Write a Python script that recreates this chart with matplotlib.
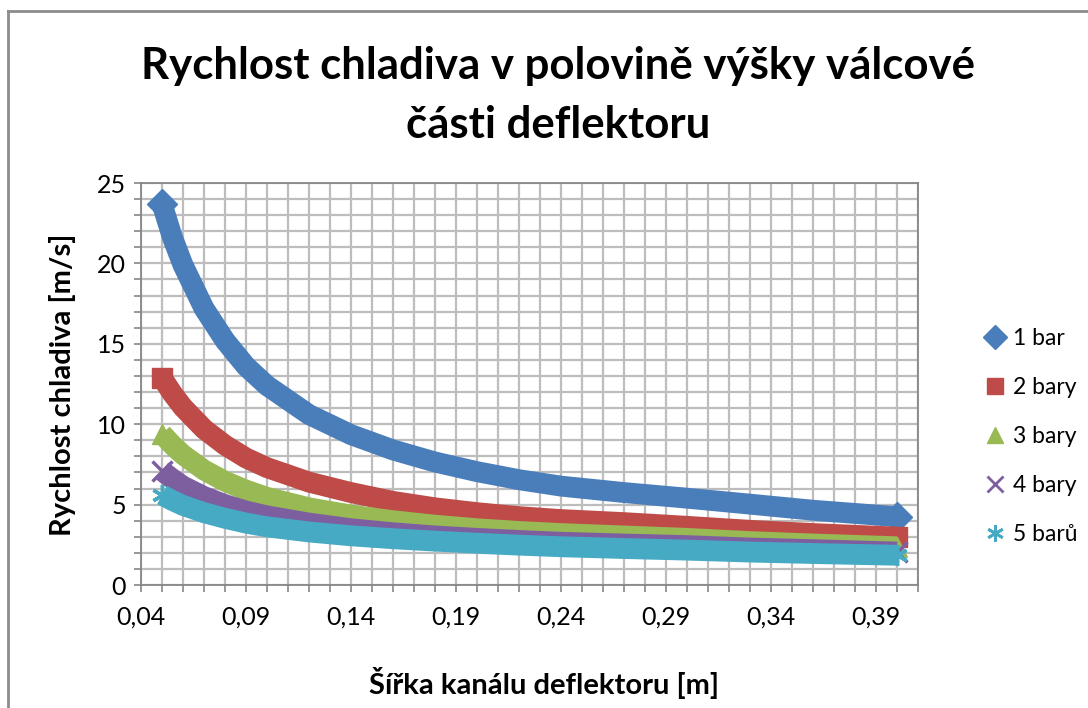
#==============================================================================#
#        Rychlost chladiva v polovine vysky valcove casti deflektoru          #
#==============================================================================#
import matplotlib
matplotlib.use('Agg')
import matplotlib.pyplot as plt
from matplotlib.lines import Line2D
from matplotlib.ticker import MultipleLocator, FixedLocator, FixedFormatter

plt.rcParams['font.family'] = ['Lato', 'DejaVu Sans']

#==============================================================================#
#                 Data (sirka kanalu [m])                   #
#==============================================================================#
sirka = [0.05, 0.055, 0.06, 0.07, 0.08, 0.09, 0.10, 0.12, 0.14, 0.16,
         0.18, 0.20, 0.22, 0.24, 0.27, 0.30, 0.33, 0.36, 0.40]

v_1bar = [23.7, 21.6, 19.9, 17.2, 15.2, 13.6, 12.4, 10.6, 9.35, 8.4,
          7.65, 7.05, 6.55, 6.15, 5.75, 5.4, 5.03, 4.65, 4.25]
v_2bary = [12.9, 11.9, 11.05, 9.7, 8.7, 7.9, 7.3, 6.4, 5.75, 5.2,
           4.8, 4.5, 4.25, 4.07, 3.88, 3.65, 3.4, 3.2, 2.98]
v_3bary = [9.4, 8.7, 8.1, 7.15, 6.45, 5.9, 5.45, 4.8, 4.35, 4.0,
           3.72, 3.5, 3.33, 3.2, 3.05, 2.9, 2.7, 2.55, 2.38]
v_4bary = [7.1, 6.6, 6.15, 5.5, 5.0, 4.6, 4.3, 3.85, 3.5, 3.25,
           3.05, 2.9, 2.77, 2.66, 2.55, 2.45, 2.3, 2.2, 2.05]
v_5baru = [5.6, 5.25, 4.95, 4.5, 4.15, 3.85, 3.62, 3.3, 3.06, 2.88,
           2.73, 2.6, 2.48, 2.38, 2.27, 2.17, 2.05, 1.96, 1.85]

nazvy = ['1 bar', '2 bary', '3 bary', '4 bary', '5 barů']
barvy = ['#4A7EBB', '#BE4B48', '#98B954', '#7D5FA0', '#46AAC5']
znacky = ['D', 's', '^', 'x', (6, 2, 0)]

x_ticks = [0.04, 0.09, 0.14, 0.19, 0.24, 0.29, 0.34, 0.39]
x_labels = ['0,04', '0,09', '0,14', '0,19', '0,24', '0,29', '0,34', '0,39']
y_ticks = [0, 5, 10, 15, 20, 25]
y_labels = ['0', '5', '10', '15', '20', '25']

#==============================================================================#
#                                 Figure                                       #
#==============================================================================#
fig = plt.figure(figsize=(10.88, 7.08), dpi=100)
ax = fig.add_axes([0.1296, 0.1737, 0.7142, 0.5678])

rady = [v_1bar, v_2bary, v_3bary, v_4bary, v_5baru]
for i, v in enumerate(rady):
    ax.plot(sirka, v, color=barvy[i], lw=15, solid_capstyle='butt',
            solid_joinstyle='round', zorder=3 + i)
    ax.plot(sirka, v, ls='none', marker=znacky[i], color=barvy[i],
            markersize=15, markeredgewidth=2.5 if i >= 3 else 1,
            markevery=[0, len(sirka) - 1], zorder=3 + i)

ax.set_xlim(0.04, 0.41)
ax.set_ylim(0, 25)
ax.xaxis.set_major_locator(FixedLocator(x_ticks))
ax.xaxis.set_major_formatter(FixedFormatter(x_labels))
ax.xaxis.set_minor_locator(MultipleLocator(0.01))
ax.yaxis.set_major_locator(FixedLocator(y_ticks))
ax.yaxis.set_major_formatter(FixedFormatter(y_labels))
ax.yaxis.set_minor_locator(MultipleLocator(1))
ax.grid(True, which='both', color='#BDBDBD', lw=1.6, zorder=0)
ax.set_axisbelow(True)
for s in ax.spines.values():
    s.set_color('#868686')
    s.set_linewidth(1.3)
ax.tick_params(which='both', colors='#868686', length=5, width=1.2,
               labelcolor='black', labelsize=18)
ax.tick_params(axis='x', pad=10)
ax.tick_params(axis='y', pad=6)

fig.text(0.513, 0.907, 'Rychlost chladiva v polovině výšky válcové',
         ha='center', va='center', fontsize=31.5, fontweight='bold')
fig.text(0.513, 0.824, 'části deflektoru',
         ha='center', va='center', fontsize=31.5, fontweight='bold')
fig.text(0.5, 0.035, 'Šířka kanálu deflektoru [m]', ha='center',
         va='center', fontsize=21, fontweight='bold')
fig.text(0.057, 0.456, 'Rychlost chladiva [m/s]', ha='center',
         va='center', rotation=90, fontsize=21, fontweight='bold')

# legend
handles = [Line2D([], [], ls='none', marker=znacky[i], color=barvy[i],
                  markersize=12, markeredgewidth=2 if i >= 3 else 1)
           for i in range(5)]
fig.legend(handles, nazvy, loc='upper left', bbox_to_anchor=(0.893, 0.553),
           frameon=False, fontsize=16.5, labelspacing=1.22, handlelength=1.0,
           handletextpad=0.3, borderpad=0)

# chart border
fig.add_artist(Line2D([8 / 1088, 1.0], [1 - 11 / 708, 1 - 11 / 708],
                      transform=fig.transFigure, color='#8C8C8C', lw=2))
fig.add_artist(Line2D([8 / 1088, 8 / 1088], [0, 1 - 11 / 708],
                      transform=fig.transFigure, color='#8C8C8C', lw=2))

fig.savefig('out.png', dpi=100)
plt.close()
